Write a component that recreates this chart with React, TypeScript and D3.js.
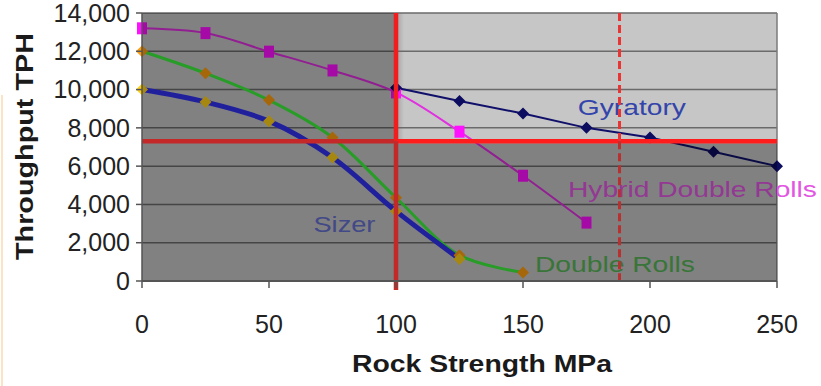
import * as d3 from 'd3';

// rock strength (MPa) vs throughput (TPH)
const gyratoryX = [100, 125, 150, 175, 200, 225, 250];
const gyratoryY = [10100, 9400, 8750, 8000, 7500, 6750, 6000];
const hybridX = [0, 25, 50, 75, 100, 125, 150, 175];
const hybridY = [13200, 12950, 11980, 11000, 9850, 7800, 5500, 3050];
const doubleRollsX = [0, 25, 50, 75, 100, 125, 150];
const doubleRollsY = [12000, 10850, 9450, 7500, 4350, 1350, 450];
const sizerX = [0, 25, 50, 75, 100, 125];
const sizerY = [10000, 9350, 8350, 6450, 3650, 1150];

const xTicks = [0, 50, 100, 150, 200, 250];
const yTicks = [0, 2000, 4000, 6000, 8000, 10000, 12000, 14000];

// reference lines
const targetTph = 7300;
const strengthLimit = 100;
const dashedLimit = 188;

const W = 821;
const H = 386;
const FONT = '"Liberation Sans", Arial, sans-serif';

export default function App() {
  const x = d3.scaleLinear().domain([0, 250]).range([142, 777]);
  const y = d3.scaleLinear().domain([0, 14000]).range([281, 13]);

  const pts = (xs: number[], ys: number[]) => xs.map((v, i) => [v, ys[i]] as [number, number]);
  const straight = d3.line<[number, number]>().x((d) => x(d[0])).y((d) => y(d[1]));
  const smooth = d3
    .line<[number, number]>()
    .x((d) => x(d[0]))
    .y((d) => y(d[1]))
    .curve(d3.curveCatmullRom.alpha(0.5));

  const fmt = d3.format(',');
  const diamond = (cx: number, cy: number, r: number) =>
    `M${cx},${cy - r}L${cx + r},${cy}L${cx},${cy + r}L${cx - r},${cy}Z`;

  const gyr = pts(gyratoryX, gyratoryY);
  const hyb = pts(hybridX, hybridY);
  const dbl = pts(doubleRollsX, doubleRollsY);
  const siz = pts(sizerX, sizerY);

  const [x0, x1] = x.range();
  const top = y(14000);
  const bottom = y(0);
  const xl = x(strengthLimit);
  const yt = y(targetTph);
  const xd = x(dashedLimit);
  const shade = 'rgba(0,0,0,0.35)';

  return (
    <div style={{ position: 'fixed', left: 0, top: 0 }}>
      <svg width={W} height={H} style={{ display: 'block', background: '#fff' }} fontFamily={FONT}>
        <defs>
          <linearGradient id="edge" x1="0" x2="1" y1="0" y2="0">
            <stop offset="0" stopColor="#000" stopOpacity={0.18} />
            <stop offset="1" stopColor="#000" stopOpacity={0} />
          </linearGradient>
        </defs>
        {/* faint left edge */}
        <line x1={2} x2={2} y1={95} y2={H} stroke="#fbe4c6" strokeWidth={2} />

        {/* plot background */}
        <rect x={x0} y={top} width={x1 - x0} height={bottom - top} fill="#c6c6c6" />
        <rect x={xl} y={top} width={8} height={yt - top} fill="url(#edge)" />

        {/* gridlines */}
        {yTicks.map((t) => (
          <line key={t} x1={x0} x2={x1} y1={y(t)} y2={y(t)} stroke="#6a6a6a" strokeWidth={1.5} />
        ))}
        <line x1={x1} x2={x1} y1={top} y2={bottom} stroke="#7a7a7a" strokeWidth={1.5} />

        {/* series */}
        <path d={smooth(dbl) ?? ''} fill="none" stroke="#3cf03c" strokeWidth={3} />
        <path d={smooth(siz) ?? ''} fill="none" stroke="#3232f2" strokeWidth={5} />
        <path d={smooth(hyb) ?? ''} fill="none" stroke="#e030e0" strokeWidth={2} />
        <path d={straight(gyr) ?? ''} fill="none" stroke="#10106a" strokeWidth={2} />

        {dbl.map((d, i) => (
          <path key={'d' + i} d={diamond(x(d[0]), y(d[1]), 6)} fill="#ff9e10" />
        ))}
        {siz.map((d, i) => (
          <path key={'s' + i} d={diamond(x(d[0]), y(d[1]), 6)} fill="#ffd21a" />
        ))}
        {hyb.map((d, i) => (
          <rect key={'h' + i} x={x(d[0]) - 5} y={y(d[1]) - 6} width={10} height={12} fill="#ff10ff" />
        ))}
        {gyr.map((d, i) => (
          <path key={'g' + i} d={diamond(x(d[0]), y(d[1]), 6)} fill="#0c0c60" />
        ))}

        {/* series labels */}
        <text x={x(171.6)} y={y(8650)} fontSize={22} fill="#3344aa" textLength={108} lengthAdjust="spacingAndGlyphs">
          Gyratory
        </text>
        <text x={x(167.7)} y={y(4380)} fontSize={22} fill="#e256e2" textLength={249} lengthAdjust="spacingAndGlyphs">
          Hybrid Double Rolls
        </text>
        <text x={x(67.5)} y={y(2550)} fontSize={22} fill="#6670d0" textLength={62} lengthAdjust="spacingAndGlyphs">
          Sizer
        </text>
        <text x={x(154.7)} y={y(470)} fontSize={22} fill="#58b458" textLength={160} lengthAdjust="spacingAndGlyphs">
          Double Rolls
        </text>

        {/* darkened zones */}
        <rect x={x0} y={top} width={xl - x0} height={bottom - top} fill={shade} />
        <rect x={xl} y={yt + 2} width={x1 - xl} height={bottom - yt - 2} fill={shade} />

        {/* reference lines */}
        <line x1={x0} x2={xl} y1={yt} y2={yt} stroke="#c42828" strokeWidth={4.5} />
        <line x1={xl} x2={x1} y1={yt} y2={yt} stroke="#ff1c1c" strokeWidth={4.5} />
        <line x1={xl} x2={xl} y1={top} y2={yt} stroke="#f01e1e" strokeWidth={4.5} />
        <line x1={xl} x2={xl} y1={yt} y2={bottom + 9} stroke="#c22a2a" strokeWidth={4.5} />
        <line x1={xd} x2={xd} y1={top} y2={yt} stroke="#e83434" strokeWidth={3} strokeDasharray="8 4" />
        <line x1={xd} x2={xd} y1={yt} y2={bottom + 2} stroke="#b83030" strokeWidth={3} strokeDasharray="8 4" />

        {/* axes */}
        <line x1={x0} x2={x0} y1={top} y2={bottom} stroke="#555" strokeWidth={1.5} />
        <line x1={x0} x2={x1} y1={bottom} y2={bottom} stroke="#555" strokeWidth={2} />
        {yTicks.map((t) => (
          <g key={'yt' + t}>
            <line x1={x0 - 6} x2={x0} y1={y(t)} y2={y(t)} stroke="#555" strokeWidth={1.5} />
            <text x={130} y={y(t)} dy="0.35em" textAnchor="end" fontSize={25} fill="#222">
              {fmt(t)}
            </text>
          </g>
        ))}
        {xTicks.map((t) => (
          <g key={'xt' + t}>
            <line x1={x(t)} x2={x(t)} y1={bottom} y2={bottom + 7} stroke="#555" strokeWidth={1.5} />
            <text x={x(t)} y={333} textAnchor="middle" fontSize={25} fill="#222">
              {t}
            </text>
          </g>
        ))}

        {/* axis titles */}
        <text x={482} y={372} textAnchor="middle" fontSize={23} fontWeight="bold" fill="#1a1a1a" textLength={260} lengthAdjust="spacingAndGlyphs">
          Rock Strength MPa
        </text>
        <text
          transform="translate(33,146.5) rotate(-90)"
          textAnchor="middle"
          fontSize={23}
          fontWeight="bold"
          fill="#1a1a1a"
          textLength={227}
          lengthAdjust="spacingAndGlyphs"
        >
          Throughput TPH
        </text>
      </svg>
    </div>
  );
}
